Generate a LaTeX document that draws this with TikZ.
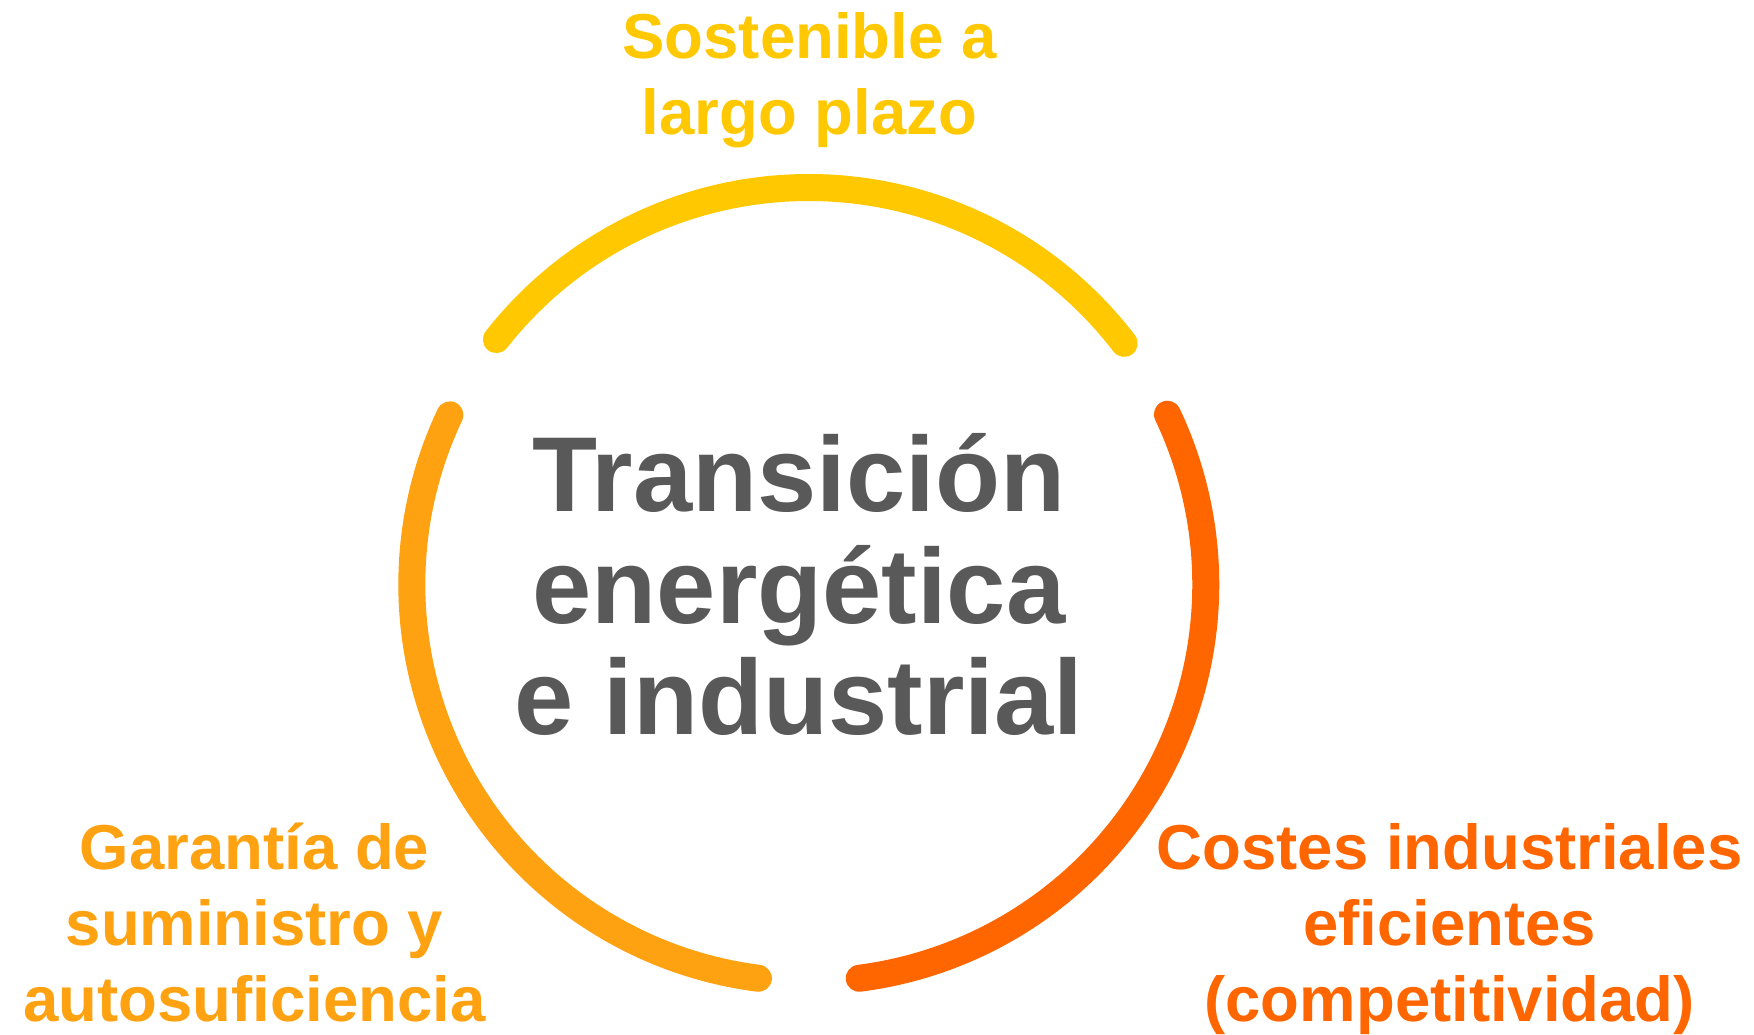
\documentclass[tikz,border=0pt]{standalone}
\usepackage{fontspec}
\setmainfont{Liberation Sans}
\usetikzlibrary{calc}
\definecolor{cyellow}{HTML}{FFC800}
\definecolor{corange}{HTML}{FFA212}
\definecolor{cred}{HTML}{FF6600}
\definecolor{cgray}{HTML}{595959}
\begin{document}
\begin{tikzpicture}[x=1pt,y=1pt,
  ring/.style={line width=27pt, line cap=round},
  lbl/.style={inner sep=0pt, align=center, anchor=base, font=\fontsize{63.5}{76}\selectfont\bfseries},
  title/.style={inner sep=0pt, align=center, anchor=base, font=\fontsize{106.5}{111.5}\selectfont\bfseries, text=cgray}]
\useasboundingbox (0,0) rectangle (1754,1034);
\coordinate (c) at (808.8,449.5);
\draw[ring,cyellow] (c) ++(37.4:397pt) arc[start angle=37.4,end angle=141.9,radius=397pt];
\draw[ring,corange] (c) ++(154.7:397pt) arc[start angle=154.7,end angle=262.7,radius=397pt];
\draw[ring,cred] (c) ++(-82.7:397pt) arc[start angle=-82.7,end angle=25.4,radius=397pt];
\node[title] (t) at (799,299) {Transición\\energética\\e industrial};
\node[lbl,text=cyellow] (top) at (809.5,899) {Sostenible a\\largo plazo};
\node[lbl,text=corange] (left) at (254.5,13) {Garantía de\\suministro y\\autosuficiencia};
\node[lbl,text=cred] (right) at (1449.7,13) {Costes industriales\\eficientes\\(competitividad)};
\end{tikzpicture}
\end{document}
